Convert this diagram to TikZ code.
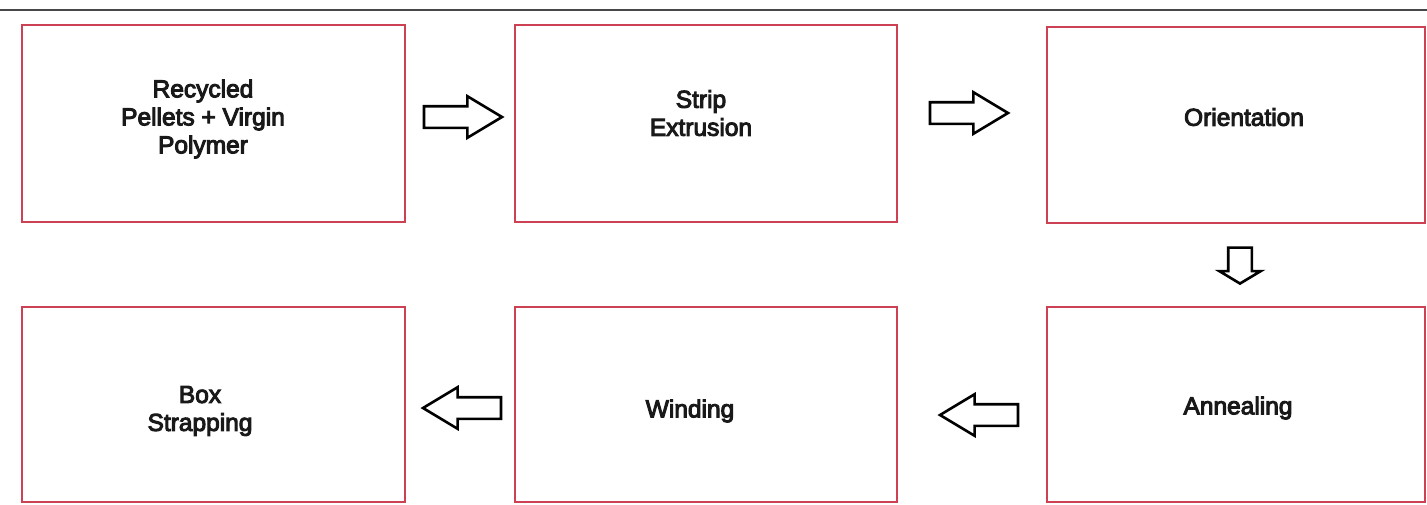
\documentclass[tikz,border=0pt]{standalone}
\usepackage{fontspec}
\newfontfamily\labfont[FakeBold=4]{Liberation Sans}
\usetikzlibrary{shapes.arrows}
\definecolor{boxred}{RGB}{205,65,85}
\definecolor{rulegray}{RGB}{70,70,75}
\tikzset{
  stepbox/.style={draw=boxred, line width=2.6pt, fill=white, rectangle, inner sep=0pt},
  lab/.style={align=center, inner sep=0pt, font=\labfont\fontsize{24.5}{28}\selectfont, text=black!90},
  blockarrow/.style={single arrow, draw=black, line width=2.6pt, fill=white,
     inner xsep=0pt, inner ysep=9.5pt, text width=0pt, text height=0pt, text depth=0pt,
     single arrow head extend=10pt, single arrow tip angle=62, minimum height=78pt},
}
\begin{document}
\begin{tikzpicture}[x=1pt,y=-1pt]
\useasboundingbox (0,0) rectangle (1427,504);
\fill[white] (0,0) rectangle (1427,504);
\coordinate (ruleL) at (0,10);
\coordinate (ruleR) at (1427,10);
\draw[rulegray, line width=2pt] (ruleL) -- (ruleR);
% boxes
\node[stepbox, minimum width=383pt, minimum height=197pt] (b1) at (213.5,123.5) {};
\node[stepbox, minimum width=382pt, minimum height=197pt] (b2) at (706,123.5) {};
\node[stepbox, minimum width=378pt, minimum height=196pt] (b3) at (1236,125) {};
\node[stepbox, minimum width=383pt, minimum height=195pt] (b4) at (213.5,404.5) {};
\node[stepbox, minimum width=382pt, minimum height=195pt] (b5) at (706,404.5) {};
\node[stepbox, minimum width=378pt, minimum height=195pt] (b6) at (1236,404.5) {};
% labels
\node[lab] (t1) at (203,119) {Recycled\\Pellets + Virgin\\Polymer};
\node[lab] (t2) at (701,113) {Strip\\Extrusion};
\node[lab] (t3) at (1244,117) {Orientation};
\node[lab] (t4) at (1238,408) {Annealing};
\node[lab] (t5) at (690,411) {Winding};
\node[lab] (t6) at (200,411) {Box\\Strapping};
% arrows
\node[blockarrow] (a12) at (454,117) {};
\node[blockarrow] (a23) at (960,113) {};
\node[blockarrow, shape border rotate=270, minimum height=36pt, inner ysep=0pt, inner xsep=10.5pt,
      single arrow head extend=9pt, single arrow tip angle=118] (a36) at (1240,262) {};
\node[blockarrow, shape border rotate=180] (a65) at (988,415) {};
\node[blockarrow, shape border rotate=180] (a54) at (471,408) {};
\end{tikzpicture}
\end{document}
